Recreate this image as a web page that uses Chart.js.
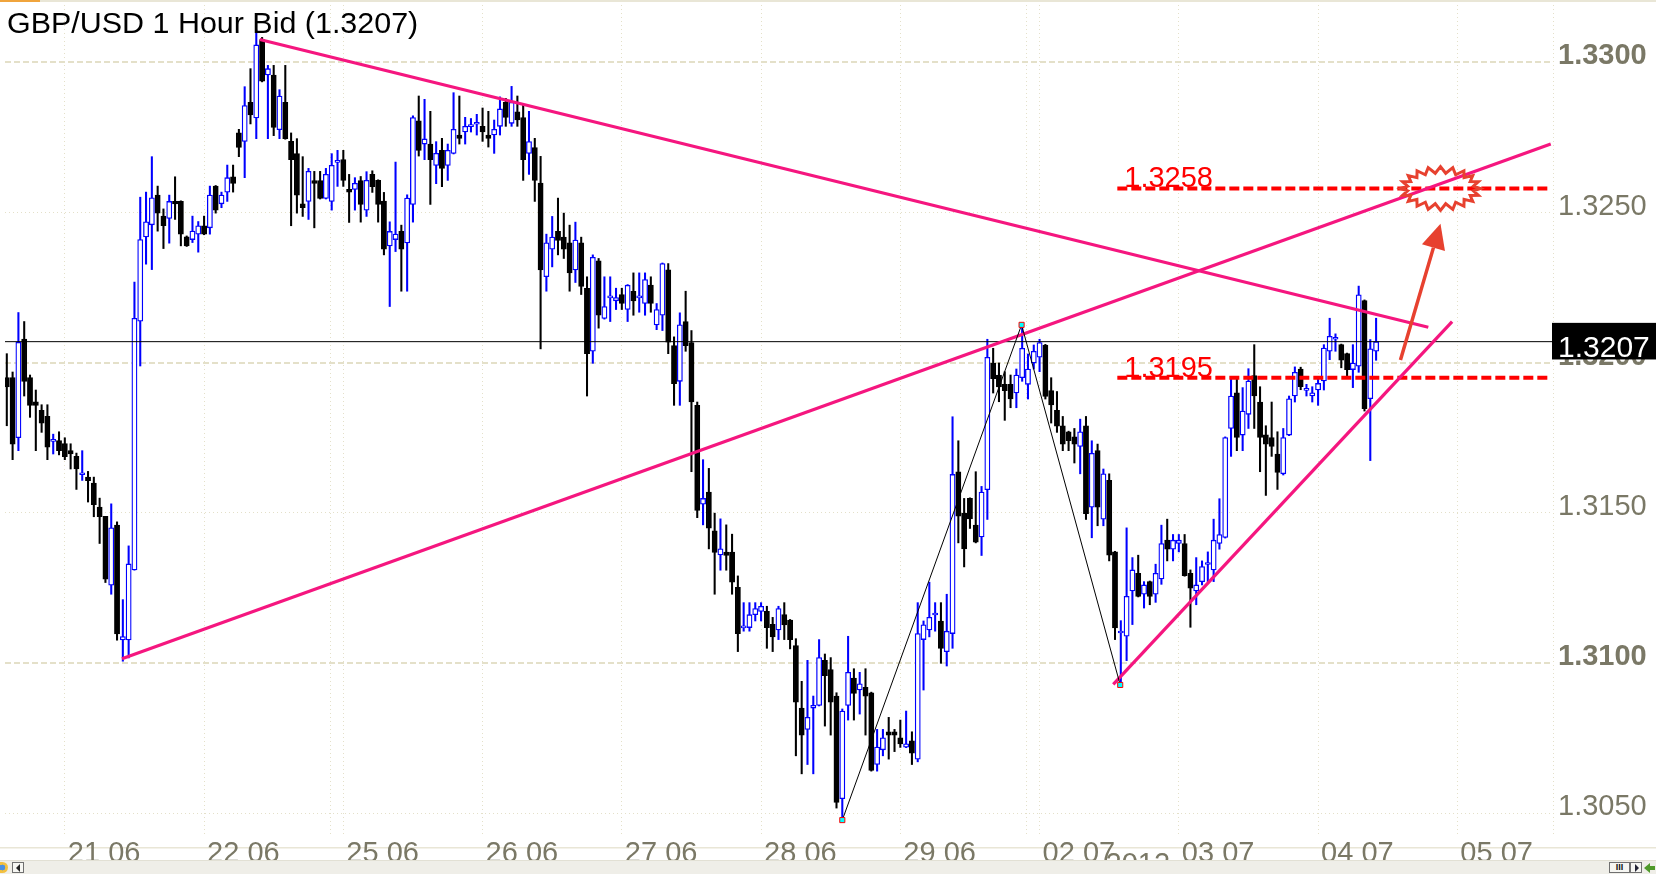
<!DOCTYPE html>
<html><head><meta charset="utf-8">
<style>
html,body{margin:0;padding:0;background:#fff;overflow:hidden}
#wrap{position:relative;width:1656px;height:874px;background:#fff}
#c{position:absolute;left:0;top:0}
#sb{position:absolute;left:0;top:860px;width:1656px;height:14px;background:#efeee8;border-top:1px solid #e2e0d4;box-sizing:border-box}
.btn{position:absolute;top:1px;height:11px;border:1px solid #707070;background:#f6f6f2;box-sizing:border-box}
.tl{position:absolute;left:3px;top:1px;width:0;height:0;border-style:solid;border-width:4px 4px 4px 0;border-color:transparent #222 transparent transparent}
.tr{position:absolute;left:4px;top:1px;width:0;height:0;border-style:solid;border-width:4px 0 4px 4px;border-color:transparent transparent transparent #223}
#ico{position:absolute;left:0;top:1px;width:8px;height:11px;border-radius:0 6px 6px 0;background:radial-gradient(circle at 30% 50%,#4a8fe0 0,#4a8fe0 35%,#f2c040 40%)}
#garrow{position:absolute;left:1644px;top:2px;width:0;height:0;border-style:solid;border-width:5px 6px 5px 0;border-color:transparent #4f9a2a transparent transparent}
#garrow2{position:absolute;left:1649px;top:5px;width:6px;height:4px;background:#4f9a2a}
.iii{font:bold 9px/9px Arial,sans-serif;text-align:center;color:#111}
</style>
<script src="https://cdn.jsdelivr.net/npm/chart.js@4"></script>
</head><body>
<div id="wrap">
<canvas id="c" width="1656" height="874"></canvas>
<div id="sb">
  <div id="ico"></div>
  <div class="btn" style="left:12px;width:12px"><div class="tl"></div></div>
  <div class="btn iii" style="left:1609px;width:21px">III</div>
  <div class="btn" style="left:1630px;width:12px"><div class="tr"></div></div>
  <div id="garrow"></div><div id="garrow2"></div>
</div>
</div>
<script>
// ---------------- DATA ----------------
const opens = [
1.31950,1.31950,1.31750,1.32079,1.31950,1.31870,1.31841,1.31821,1.31738,1.31741,
1.31731,1.31707,1.31688,1.31627,1.31619,1.31599,1.31519,1.31488,1.31259,1.31459,
1.31077,1.31077,1.31310,1.32138,1.32419,1.32459,1.32558,1.32488,1.32480,1.32537,
1.32537,1.32419,1.32410,1.32428,1.32456,1.32449,1.32588,1.32529,1.32568,1.32619,
1.32765,1.32737,1.32867,1.32815,1.33076,1.32958,1.32958,1.32776,1.32867,1.32737,
1.32696,1.32529,1.32537,1.32606,1.32606,1.32547,1.32537,1.32667,1.32676,1.32577,
1.32577,1.32606,1.32508,1.32627,1.32607,1.32538,1.32389,1.32410,1.32437,1.32399,
1.32527,1.32805,1.32728,1.32728,1.32657,1.32707,1.32657,1.32697,1.32758,1.32768,
1.32786,1.32794,1.32787,1.32758,1.32758,1.32787,1.32867,1.32797,1.32835,1.32816,
1.32697,1.32716,1.32598,1.32286,1.32378,1.32437,1.32418,1.32399,1.32309,1.32399,
1.32248,1.32038,1.32339,1.32147,1.32216,1.32206,1.32227,1.32177,1.32238,1.32216,
1.32197,1.32258,1.32126,1.32158,1.32309,1.32057,1.31938,1.32137,1.32067,1.31858,
1.31529,1.31569,1.31440,1.31360,1.31369,1.31369,1.31252,1.31117,1.31118,1.31161,
1.31172,1.31172,1.31129,1.31110,1.31161,1.31143,1.31058,1.30850,1.30779,1.30850,
1.30859,1.31009,1.30978,1.30890,1.30548,1.30859,1.30950,1.30910,1.30919,1.30901,
1.30662,1.30711,1.30771,1.30771,1.30751,1.30720,1.30741,1.30680,1.31078,1.31110,
1.31160,1.31140,1.31038,1.31098,1.31637,1.31499,1.31548,1.31459,1.31420,1.31577,
1.31999,1.31959,1.31928,1.31928,1.31899,1.31950,1.31928,1.31999,1.32018,1.32059,
1.31907,1.31841,1.31790,1.31770,1.31753,1.31721,1.31790,1.31519,1.31707,1.31479,
1.31608,1.31370,1.31100,1.31089,1.31240,1.31299,1.31229,1.31271,1.31229,1.31280,
1.31409,1.31379,1.31398,1.31398,1.31299,1.31240,1.31271,1.31328,1.31310,1.31398,
1.31418,1.31781,1.31900,1.31759,1.31828,1.31957,1.31869,1.31760,1.31751,1.31696,
1.31630,1.31759,1.31889,1.31979,1.31908,1.31889,1.31909,1.31939,1.32038,1.32078,
1.32060,1.32030,1.31977,1.31988,1.32207,1.31880,1.32038];
const highs = [
1.32030,1.31969,1.32167,1.32137,1.31959,1.31909,1.31860,1.31860,1.31762,1.31770,
1.31750,1.31730,1.31699,1.31707,1.31638,1.31619,1.31549,1.31488,1.31530,1.31470,
1.31211,1.31390,1.32268,1.32551,1.32568,1.32686,1.32588,1.32512,1.32558,1.32619,
1.32539,1.32422,1.32488,1.32470,1.32488,1.32588,1.32590,1.32568,1.32658,1.32658,
1.32777,1.32919,1.32979,1.33108,1.33083,1.32990,1.32990,1.32909,1.32990,1.32765,
1.32746,1.32686,1.32647,1.32637,1.32637,1.32647,1.32696,1.32707,1.32707,1.32627,
1.32616,1.32620,1.32636,1.32639,1.32609,1.32567,1.32469,1.32668,1.32458,1.32559,
1.32822,1.32888,1.32877,1.32837,1.32736,1.32747,1.32728,1.32899,1.32888,1.32817,
1.32813,1.32827,1.32848,1.32837,1.32808,1.32885,1.32880,1.32920,1.32888,1.32858,
1.32837,1.32747,1.32687,1.32428,1.32487,1.32548,1.32498,1.32458,1.32468,1.32418,
1.32286,1.32359,1.32347,1.32286,1.32286,1.32248,1.32248,1.32260,1.32299,1.32299,
1.32299,1.32286,1.32197,1.32332,1.32330,1.32086,1.32166,1.32238,1.32107,1.31869,
1.31677,1.31648,1.31499,1.31480,1.31460,1.31429,1.31290,1.31201,1.31201,1.31201,
1.31201,1.31189,1.31152,1.31189,1.31201,1.31145,1.31081,1.30939,1.31009,1.30890,
1.31078,1.31030,1.31018,1.30901,1.30847,1.31089,1.30981,1.30969,1.30981,1.30903,
1.30779,1.30779,1.30819,1.30779,1.30810,1.30840,1.30771,1.31201,1.31140,1.31269,
1.31201,1.31201,1.31229,1.31820,1.31740,1.31548,1.31550,1.31637,1.31588,1.32078,
1.32048,1.31999,1.31970,1.31959,1.31979,1.32126,1.32029,1.32059,1.32078,1.32061,
1.31950,1.31904,1.31821,1.31772,1.31781,1.31812,1.31821,1.31740,1.31729,1.31646,
1.31630,1.31372,1.31141,1.31450,1.31351,1.31359,1.31271,1.31273,1.31329,1.31459,
1.31479,1.31428,1.31428,1.31428,1.31310,1.31351,1.31340,1.31370,1.31479,1.31547,
1.31753,1.31946,1.31946,1.31917,1.31980,1.32060,1.31920,1.31790,1.31869,1.31770,
1.31781,1.31889,1.31986,1.31985,1.31928,1.31920,1.31950,1.32060,1.32148,1.32096,
1.32062,1.32032,1.32060,1.32255,1.32209,1.32077,1.32148];
const lows = [
1.31790,1.31677,1.31707,1.31889,1.31818,1.31707,1.31768,1.31677,1.31696,1.31693,
1.31677,1.31646,1.31578,1.31608,1.31536,1.31487,1.31398,1.31268,1.31229,1.31076,
1.31006,1.31017,1.31309,1.31989,1.32328,1.32310,1.32438,1.32380,1.32398,1.32477,
1.32389,1.32387,1.32400,1.32368,1.32426,1.32428,1.32498,1.32516,1.32537,1.32568,
1.32686,1.32616,1.32795,1.32746,1.32935,1.32746,1.32756,1.32746,1.32744,1.32456,
1.32498,1.32487,1.32477,1.32449,1.32545,1.32545,1.32508,1.32587,1.32587,1.32467,
1.32508,1.32468,1.32487,1.32567,1.32468,1.32359,1.32187,1.32370,1.32238,1.32238,
1.32468,1.32688,1.32676,1.32527,1.32596,1.32586,1.32607,1.32695,1.32728,1.32728,
1.32768,1.32758,1.32737,1.32718,1.32697,1.32758,1.32787,1.32787,1.32787,1.32607,
1.32627,1.32537,1.32046,1.32238,1.32319,1.32359,1.32347,1.32238,1.32267,1.32227,
1.31889,1.31998,1.32115,1.32145,1.32137,1.32177,1.32177,1.32137,1.32158,1.32168,
1.32158,1.32168,1.32110,1.32107,1.32030,1.31858,1.31858,1.32038,1.31637,1.31484,
1.31460,1.31380,1.31229,1.31309,1.31309,1.31229,1.31038,1.31106,1.31106,1.31140,
1.31140,1.31049,1.31038,1.31078,1.31078,1.31047,1.30691,1.30631,1.30662,1.30631,
1.30857,1.30790,1.30760,1.30517,1.30477,1.30810,1.30810,1.30830,1.30760,1.30640,
1.30640,1.30691,1.30680,1.30705,1.30719,1.30718,1.30662,1.30671,1.30910,1.31087,
1.31106,1.30999,1.30990,1.31049,1.31400,1.31320,1.31448,1.31400,1.31358,1.31478,
1.31899,1.31870,1.31808,1.31850,1.31850,1.31938,1.31879,1.31979,1.31970,1.31879,
1.31799,1.31768,1.31707,1.31707,1.31666,1.31630,1.31478,1.31417,1.31457,1.31457,
1.31340,1.31078,1.30929,1.31008,1.31128,1.31220,1.31183,1.31194,1.31202,1.31262,
1.31340,1.31340,1.31370,1.31289,1.31119,1.31194,1.31260,1.31271,1.31271,1.31379,
1.31416,1.31688,1.31707,1.31707,1.31781,1.31781,1.31637,1.31558,1.31688,1.31578,
1.31626,1.31757,1.31869,1.31910,1.31889,1.31869,1.31858,1.31909,1.32010,1.32038,
1.31983,1.31955,1.31917,1.31968,1.31839,1.31674,1.32008];
const closes = [
1.31919,1.31729,1.32068,1.31938,1.31858,1.31858,1.31799,1.31719,1.31740,1.31707,
1.31687,1.31696,1.31646,1.31629,1.31607,1.31527,1.31487,1.31279,1.31450,1.31097,
1.31088,1.31330,1.32148,1.32410,1.32469,1.32549,1.32498,1.32456,1.32537,1.32529,
1.32428,1.32389,1.32438,1.32456,1.32428,1.32558,1.32508,1.32558,1.32616,1.32597,
1.32717,1.32856,1.32825,1.33058,1.32937,1.32979,1.32783,1.32888,1.32746,1.32676,
1.32558,1.32516,1.32637,1.32597,1.32547,1.32627,1.32657,1.32669,1.32607,1.32568,
1.32597,1.32527,1.32607,1.32586,1.32527,1.32378,1.32437,1.32428,1.32378,1.32548,
1.32816,1.32707,1.32745,1.32676,1.32697,1.32647,1.32707,1.32777,1.32747,1.32787,
1.32787,1.32795,1.32768,1.32747,1.32777,1.32845,1.32817,1.32867,1.32808,1.32676,
1.32736,1.32607,1.32309,1.32399,1.32418,1.32407,1.32378,1.32299,1.32408,1.32254,
1.32030,1.32351,1.32158,1.32187,1.32218,1.32217,1.32197,1.32258,1.32206,1.32218,
1.32277,1.32197,1.32177,1.32330,1.32068,1.31930,1.32126,1.32057,1.31869,1.31508,
1.31548,1.31449,1.31368,1.31380,1.31358,1.31269,1.31098,1.31118,1.31161,1.31181,
1.31189,1.31118,1.31087,1.31181,1.31127,1.31078,1.30870,1.30760,1.30819,1.30859,
1.31018,1.30958,1.30870,1.30536,1.30840,1.30969,1.30899,1.30931,1.30890,1.30642,
1.30720,1.30751,1.30760,1.30760,1.30731,1.30731,1.30700,1.31098,1.31127,1.31152,
1.31161,1.31049,1.31106,1.31628,1.31489,1.31380,1.31480,1.31402,1.31569,1.32018,
1.31947,1.31919,1.31907,1.31879,1.31959,1.32048,1.31979,1.32038,1.32067,1.31888,
1.31859,1.31789,1.31729,1.31740,1.31729,1.31770,1.31497,1.31698,1.31519,1.31630,
1.31359,1.31117,1.31101,1.31222,1.31310,1.31222,1.31260,1.31222,1.31299,1.31398,
1.31379,1.31409,1.31409,1.31291,1.31249,1.31260,1.31321,1.31329,1.31409,1.31428,
1.31751,1.31889,1.31751,1.31839,1.31939,1.31889,1.31751,1.31729,1.31721,1.31635,
1.31751,1.31880,1.31968,1.31920,1.31909,1.31900,1.31931,1.32049,1.32088,1.32079,
1.32008,1.31977,1.31999,1.32226,1.31847,1.32046,1.32070];

const dayStart  = [10, 34, 58, 82, 106, 130, 154, 178, 202, 226, 250];
const dayLabels = ['21 06','22 06','25 06','26 06','27 06','28 06','29 06','02 07','03 07','04 07','05 07'];
const weekBreaks = [55.8, 175.8];
const yTicks = [1.3050, 1.3100, 1.3150, 1.3200, 1.3250, 1.3300];
const lastBid = 1.3207;
const levels = [1.3258, 1.3195];
// trend lines: [candle index, price] pairs
const trendDown  = [[43.6, 1.33076], [245.0, 1.32118]];
const trendUp    = [[19.85, 1.31014], [266.1, 1.32728]];
const trendUp2   = [[190.7, 1.30929], [249.1, 1.32137]];
const zigzagIdx   = [144.0, 174.9, 191.9];
const zigzagPrice = [1.30477, 1.32126, 1.30927];
const arrowFrom = [240.2, 1.32009];
const arrowTo   = [247.1, 1.32463];
const burst = {x: 247.1, y: 1.3258, dx: 6.87, dy: 0.00073};
const levelFrom = 191.4, levelTo = 266.0, levelLabelAt = 192.6;

// ---------------- CHART ----------------
const X_MIN = -0.31, X_MAX = 266.49, Y_MIN = 1.30424, Y_MAX = 1.33191;
const FONT = '"Liberation Sans", Arial, sans-serif';
const PINK = '#f5167f', RED = '#ff0000', ARROW = '#e7412f', BLUE = '#0000ff';
const AXIS_TXT = '#7a7866', GRID = '#e4e0c9';

const idx = opens.map((_, i) => i);
const bull = idx.map(i => closes[i] >= opens[i]);
const isMajor = c => c && c.tick && Math.abs(c.tick.value * 100 - Math.round(c.tick.value * 100)) < 1e-6;
const seg = s => s.map(p => ({x: p[0], y: p[1]}));

function sText(ctx, text, x, y, sx) {
  ctx.save(); ctx.translate(x, y); ctx.scale(sx, 1); ctx.fillText(text, 0, 0); ctx.restore();
}

const decor = {
  id: 'decor',
  beforeDraw(chart) {
    const c = chart.ctx;
    c.save();
    c.fillStyle = '#e9e6d6';
    c.fillRect(0, 847, chart.width, 1.5);
    c.fillRect(0, 0, chart.width, 2);
    c.fillStyle = '#f0a43c';
    c.fillRect(0, 0, 40, 2);
    c.restore();
  },
  afterDatasetsDraw(chart) {
    const {ctx, scales: {x, y}} = chart;
    ctx.save();
    // arrow
    const x0 = x.getPixelForValue(arrowFrom[0]), y0 = y.getPixelForValue(arrowFrom[1]);
    const x1 = x.getPixelForValue(arrowTo[0]), y1 = y.getPixelForValue(arrowTo[1]);
    const a = Math.atan2(y1 - y0, x1 - x0), hl = 25, hw = 12;
    const bx = x1 - hl * Math.cos(a), by = y1 - hl * Math.sin(a);
    ctx.strokeStyle = ARROW; ctx.fillStyle = ARROW; ctx.lineWidth = 3.5;
    ctx.beginPath(); ctx.moveTo(x0, y0); ctx.lineTo(bx, by); ctx.stroke();
    ctx.beginPath(); ctx.moveTo(x1, y1);
    ctx.lineTo(bx + hw * Math.sin(a), by - hw * Math.cos(a));
    ctx.lineTo(bx - hw * Math.sin(a), by + hw * Math.cos(a));
    ctx.closePath(); ctx.fill();
    // burst
    const cx = x.getPixelForValue(burst.x), cy = y.getPixelForValue(burst.y);
    const rx = x.getPixelForValue(burst.x + burst.dx) - cx;
    const ry = cy - y.getPixelForValue(burst.y + burst.dy);
    ctx.lineWidth = 3; ctx.lineJoin = 'miter';
    ctx.beginPath();
    const N = 40;
    for (let k = 0; k < N; k++) {
      const t = k / N * 2 * Math.PI, d = (k % 2) ? 6.5 : 0;
      const px = cx + (rx - d) * Math.cos(t), py = cy + (ry - d) * Math.sin(t);
      if (k) ctx.lineTo(px, py); else ctx.moveTo(px, py);
    }
    ctx.closePath(); ctx.stroke();
    // level labels
    ctx.fillStyle = RED; ctx.font = '29px ' + FONT; ctx.textBaseline = 'alphabetic';
    levels.forEach(lv => ctx.fillText(lv.toFixed(4), x.getPixelForValue(levelLabelAt), y.getPixelForValue(lv) - 1));
    ctx.restore();
  },
  afterDraw(chart) {
    const {ctx, scales: {x, y}, chartArea} = chart;
    ctx.save();
    ctx.textBaseline = 'alphabetic';
    ctx.fillStyle = '#000'; ctx.font = '29px ' + FONT;
    sText(ctx, 'GBP/USD 1 Hour Bid (' + lastBid.toFixed(4) + ')', 7, 33.3, 1.05);
    const py = y.getPixelForValue(lastBid);
    ctx.fillStyle = '#000';
    ctx.fillRect(chartArea.right - 1, py - 18.8, chart.width - chartArea.right + 1, 36.6);
    ctx.fillStyle = '#fff'; ctx.font = '30px ' + FONT;
    ctx.fillText(lastBid.toFixed(4), chartArea.right + 5, py + 15.5);
    ctx.fillStyle = AXIS_TXT; ctx.font = '29px ' + FONT; ctx.textBaseline = 'top';
    ctx.fillText('2012', x.getPixelForValue(dayStart[7]) + 66, 850);
    ctx.restore();
  }
};

new Chart(document.getElementById('c'), {
  type: 'bar',
  data: {
    datasets: [
      {type: 'line', data: zigzagIdx.map((v, k) => ({x: v, y: zigzagPrice[k]})), borderColor: '#000', borderWidth: 1,
       pointRadius: 3.6, pointStyle: 'rect', pointBackgroundColor: '#00ffff', pointBorderColor: '#ff0000', pointBorderWidth: 1, order: 0},
      {type: 'line', data: seg(trendDown), borderColor: PINK, borderWidth: 3.2, pointRadius: 0, order: 1},
      {type: 'line', data: seg(trendUp), borderColor: PINK, borderWidth: 3.2, pointRadius: 0, order: 1},
      {type: 'line', data: seg(trendUp2), borderColor: PINK, borderWidth: 3.2, pointRadius: 0, order: 1},
      ...levels.map(lv => ({type: 'line', data: [{x: levelFrom, y: lv}, {x: levelTo, y: lv}], borderColor: RED,
        borderWidth: 4, borderDash: [10, 4], pointRadius: 0, order: 2})),
      {type: 'line', data: [{x: X_MIN, y: lastBid}, {x: X_MAX, y: lastBid}], borderColor: '#000', borderWidth: 1, pointRadius: 0, order: 3},
      {type: 'bar', data: idx.map(i => ({x: i, y: [opens[i], closes[i]]})),
       backgroundColor: bull.map(b => b ? '#ffffff' : '#000000'), borderColor: bull.map(b => b ? BLUE : '#000000'),
       borderWidth: 1.3, borderSkipped: false, barThickness: 5.2, minBarLength: 2, grouped: false, order: 4},
      {type: 'bar', data: idx.map(i => ({x: i, y: [lows[i], highs[i]]})),
       backgroundColor: bull.map(b => b ? BLUE : '#000000'), borderWidth: 0, barThickness: 1.4, grouped: false, order: 5}
    ]
  },
  options: {
    responsive: false, animation: false, devicePixelRatio: 1,
    layout: {padding: 0},
    plugins: {legend: {display: false}, tooltip: {enabled: false}, title: {display: false}},
    scales: {
      x: {
        type: 'linear', min: X_MIN, max: X_MAX, offset: false, position: 'bottom',
        grid: {offset: false, color: GRID, lineWidth: 1, drawTicks: false},
        border: {display: false, dash: [1, 3]},
        afterBuildTicks: s => { s.ticks = [...dayStart, ...weekBreaks, X_MAX].sort((p, q) => p - q).map(v => ({value: v})); },
        afterFit: s => { s.height = 38; s.paddingLeft = 0; s.paddingRight = 0; },
        ticks: {autoSkip: false, maxRotation: 0, minRotation: 0, align: 'start', labelOffset: 3, padding: 1,
          color: AXIS_TXT, font: {family: FONT, size: 29},
          callback: v => { const k = dayStart.indexOf(v); return k >= 0 ? dayLabels[k] : ''; }}
      },
      y: {
        type: 'linear', position: 'right', min: Y_MIN, max: Y_MAX,
        grid: {color: GRID, lineWidth: c => isMajor(c) ? 2 : 1, drawTicks: false},
        border: {display: false, dash: c => isMajor(c) ? [6, 3] : [1, 3]},
        afterBuildTicks: s => { s.ticks = yTicks.map(v => ({value: v})); },
        afterFit: s => { s.width = 103; s.paddingTop = 0; s.paddingBottom = 0; },
        ticks: {padding: 5, labelOffset: -6, color: AXIS_TXT,
          font: c => ({family: FONT, size: 29, weight: isMajor(c) ? 'bold' : 'normal'}),
          callback: v => v.toFixed(4)}
      }
    }
  },
  plugins: [decor]
});
</script>
</body></html>
